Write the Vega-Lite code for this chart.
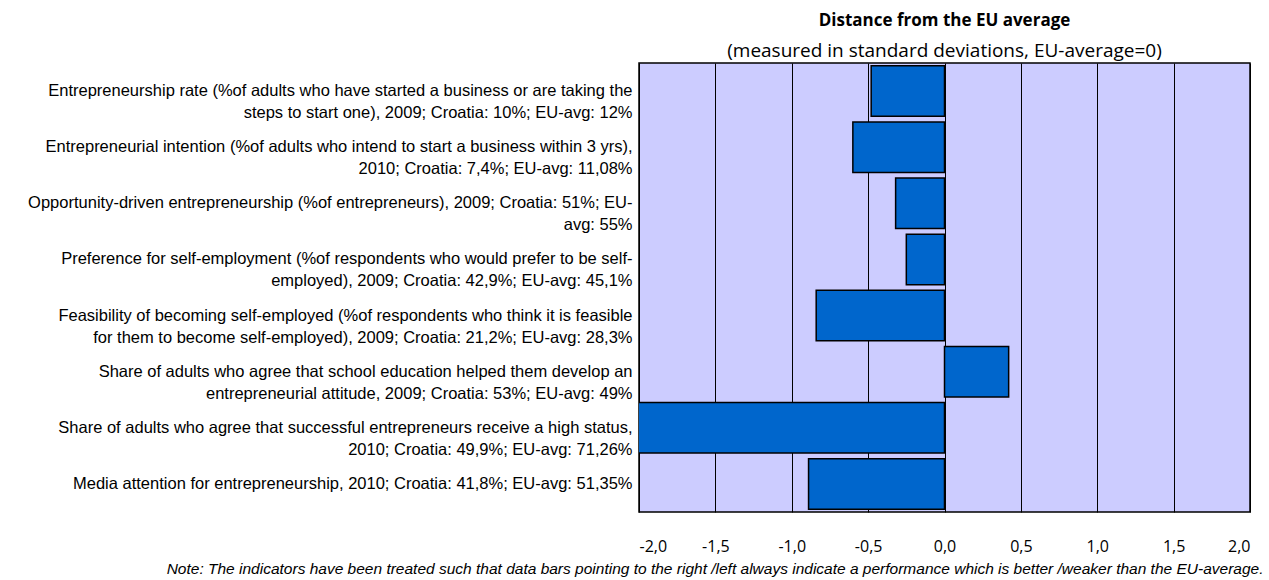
{
  "$schema": "https://vega.github.io/schema/vega-lite/v6.json",
  "width": 611,
  "height": 449,
  "autosize": {"type": "none"},
  "padding": {"left": 639, "top": 63, "right": 19, "bottom": 68},
  "background": "#ffffff",
  "title": {
    "text": "Distance from the EU average",
    "subtitle": "(measured in standard deviations, EU-average=0)",
    "anchor": "middle",
    "font": "Open Sans",
    "fontSize": 17,
    "fontWeight": "bold",
    "color": "#000000",
    "subtitleFont": "Open Sans",
    "subtitleFontSize": 19,
    "subtitleColor": "#000000",
    "subtitlePadding": 12,
    "offset": 1
  },
  "data": {
    "values": [
      {"indicator": "Entrepreneurship rate (%of adults who have started a business or are taking the\nsteps to start one), 2009; Croatia: 10%; EU-avg: 12%", "distance": -0.48},
      {"indicator": "Entrepreneurial intention (%of adults who intend to start a business within 3 yrs),\n2010; Croatia: 7,4%; EU-avg: 11,08%", "distance": -0.60},
      {"indicator": "Opportunity-driven entrepreneurship (%of entrepreneurs), 2009; Croatia: 51%; EU-\navg: 55%", "distance": -0.32},
      {"indicator": "Preference for self-employment (%of respondents who would prefer to be self-\nemployed), 2009; Croatia: 42,9%; EU-avg: 45,1%", "distance": -0.25},
      {"indicator": "Feasibility of becoming self-employed (%of respondents who think it is feasible\nfor them to become self-employed), 2009; Croatia: 21,2%; EU-avg: 28,3%", "distance": -0.84},
      {"indicator": "Share of adults who agree that school education helped them develop an\nentrepreneurial attitude, 2009; Croatia: 53%; EU-avg: 49%", "distance": 0.42},
      {"indicator": "Share of adults who agree that successful entrepreneurs receive a high status,\n2010; Croatia: 49,9%; EU-avg: 71,26%", "distance": -2.02},
      {"indicator": "Media attention for entrepreneurship, 2010; Croatia: 41,8%; EU-avg: 51,35%", "distance": -0.89}
    ]
  },
  "mark": {"type": "bar", "color": "#0066CC", "stroke": "#000000", "strokeWidth": 1.5, "clip": true},
  "encoding": {
    "y": {
      "field": "indicator",
      "type": "nominal",
      "sort": null,
      "scale": {"paddingInner": 0.1, "paddingOuter": 0.05},
      "axis": {
        "title": null,
        "ticks": false,
        "domain": false,
        "labelExpr": "split(datum.value, '\\n')",
        "labelFont": "Liberation Sans",
        "labelFontSize": 16.5,
        "labelColor": "#000000",
        "labelLimit": 700,
        "labelPadding": 7,
        "labelLineHeight": 22
      }
    },
    "x": {
      "field": "distance",
      "type": "quantitative",
      "scale": {"domain": [-2, 2], "nice": false},
      "axis": {
        "values": [-2, -1.5, -1, -0.5, 0, 0.5, 1, 1.5, 2],
        "labelExpr": "replace(replace(format(datum.value, '.1f'), '.', ','), '\u2212', '-')",
        "labelFont": "Open Sans",
        "labelFontSize": 16,
        "labelColor": "#000000",
        "labelPadding": 26,
        "ticks": false,
        "domain": false,
        "grid": true,
        "gridColor": "#000000",
        "gridWidth": 1,
        "gridOpacity": 1,
        "title": "Note: The indicators have been treated such that data bars pointing to the right /left always indicate a performance which is better /weaker than the EU-average.",
        "titleFont": "Liberation Sans",
        "titleFontSize": 15.5,
        "titleFontStyle": "italic",
        "titleFontWeight": "normal",
        "titleColor": "#000000",
        "titleAlign": "right",
        "titleAnchor": "end",
        "titleX": 624,
        "titleY": 61,
        "titleBaseline": "alphabetic"
      }
    }
  },
  "config": {
    "view": {"fill": "#CCCCFF", "stroke": "#000000", "strokeWidth": 1.5}
  }
}
